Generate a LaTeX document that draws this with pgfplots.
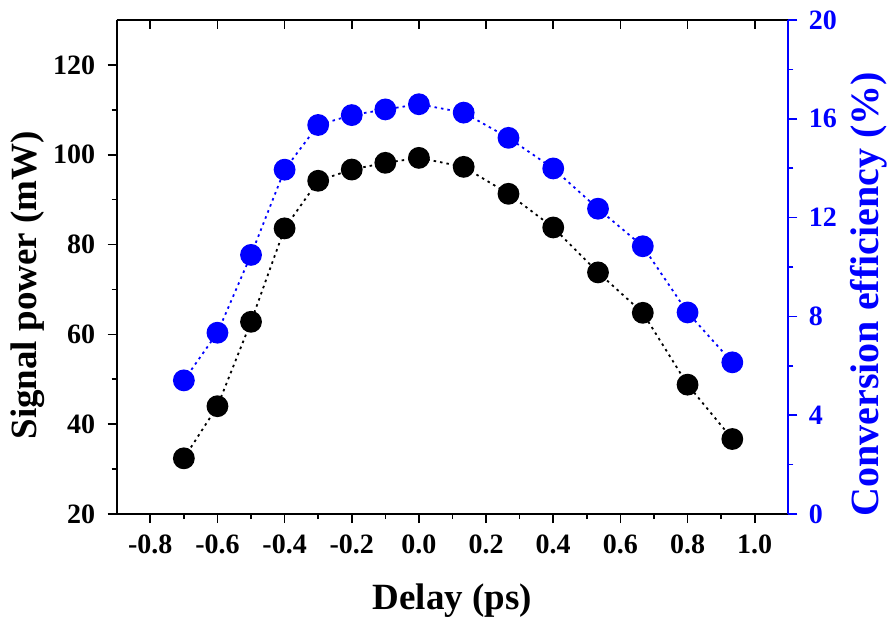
\documentclass[border=0pt]{standalone}
\usepackage{fontspec}
\setmainfont{Liberation Serif}
\usepackage{pgfplots}
\pgfplotsset{compat=1.18}
\definecolor{myblue}{RGB}{0,0,255}
\pgfplotstableread{
x p e
-0.7 32.4 5.41
-0.6 44.0 7.34
-0.5 62.8 10.49
-0.4 83.6 13.94
-0.3 94.2 15.75
-0.2 96.7 16.15
-0.1 98.2 16.38
0.0 99.3 16.59
0.1333 97.3 16.25
0.2667 91.3 15.23
0.4 83.8 13.99
0.5333 73.8 12.36
0.6667 64.8 10.84
0.8 48.8 8.16
0.9333 36.7 6.14
}\datatable
\begin{document}
\begin{tikzpicture}
\pgfplotsset{
  common/.style={
    at={(0,0)}, anchor=south west, scale only axis,
    width=671.6pt, height=494pt,
    xmin=-0.9, xmax=1.1, clip=false,
    axis line style={line width=1.8pt,-},
    major tick length=9pt, minor tick length=5pt,
    every tick/.style={line width=1.6pt},
    /pgf/number format/assume math mode=true,
    ticklabel style={font=\fontsize{28}{28}\selectfont\bfseries},
    label style={font=\fontsize{37}{37}\selectfont\bfseries},
  }
}
% top axis (inward ticks)
\begin{axis}[common,
  axis x line*=top, axis y line=none,
  ymin=0, ymax=1,
  tick align=inside,
  xtick={-0.8,-0.6,-0.4,-0.2,0,0.2,0.4,0.6,0.8,1.0},
  xticklabels={},
  every tick/.style={line width=1.6pt, black},
]
\end{axis}
% left axis
\begin{axis}[common,
  axis x line*=bottom, axis y line*=left,
  ymin=20, ymax=130,
  tick align=outside,
  every tick/.style={line width=1.6pt, black},
  xtick={-0.8,-0.6,-0.4,-0.2,0,0.2,0.4,0.6,0.8,1.0},
  minor x tick num=1,
  ytick={20,40,60,80,100,120},
  minor y tick num=1,
  xticklabel style={yshift=-8pt, /pgf/number format/fixed, /pgf/number format/fixed zerofill, /pgf/number format/precision=1},
  yticklabel style={xshift=-9pt},
  xlabel={Delay (ps)},
  ylabel={Signal power (mW)},
  xlabel style={at={(axis description cs:0.5,0)}, anchor=base, yshift=-95pt},
  ylabel style={at={(axis description cs:-0.132,0.463)}, anchor=center},
]
\addplot[black, line width=1.8pt, dash pattern=on 2.5pt off 4pt,
  mark=*, mark size=10pt, mark options={solid, fill=black, draw=none}]
  table[x=x, y=p] {\datatable};
\end{axis}
% right axis
\begin{axis}[common,
  axis x line=none, axis y line*=right,
  ymin=0, ymax=20,
  tick align=outside,
  y axis line style={myblue, line width=1.8pt,-},
  every tick/.style={line width=1.6pt, myblue},
  ytick={0,4,8,12,16,20},
  minor y tick num=1,
  yticklabel style={myblue, xshift=8pt},
  ylabel={Conversion efficiency (\%)},
  ylabel style={myblue, font=\fontsize{40}{40}\selectfont\bfseries, at={(axis description cs:1.1202,0.445)}, anchor=center},
]
\addplot[myblue, line width=1.8pt, dash pattern=on 2.5pt off 4pt,
  mark=*, mark size=10pt, mark options={solid, fill=myblue, draw=none}]
  table[x=x, y=e] {\datatable};
\end{axis}
\pgfresetboundingbox
\useasboundingbox (-116.7pt,-105pt) rectangle (771.3pt,514pt);
\end{tikzpicture}
\end{document}
